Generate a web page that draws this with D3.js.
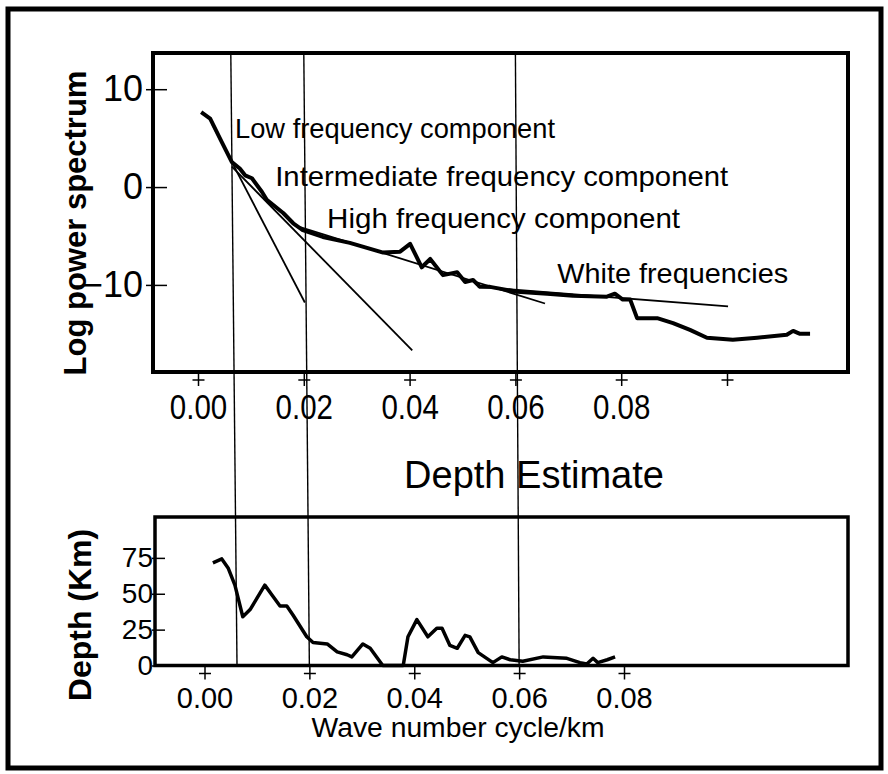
<!doctype html>
<html>
<head>
<meta charset="UTF-8">
<title>Spectral depth estimate</title>
<script src="https://d3js.org/d3.v7.min.js"></script>
<style>
  body { margin: 0; background: #fff; }
  text { font-family: "Liberation Sans", Arial, sans-serif; fill: #000; }
  .frame { fill: none; stroke: #000; }
</style>
</head>
<body>
<script>

// log power spectrum (wavenumber, value)
var specK = [0.0006, 0.0023, 0.0045, 0.0064, 0.0079, 0.0089, 0.0102, 0.0121, 0.0130, 0.0161,
             0.0180, 0.0198, 0.0236, 0.0287, 0.0350, 0.0382, 0.0401, 0.0423, 0.0439, 0.0463,
             0.0490, 0.0505, 0.0520, 0.0533, 0.0552, 0.0603, 0.0660, 0.0709, 0.0773, 0.0788,
             0.0803, 0.0817, 0.0830, 0.0868, 0.0898, 0.0930, 0.0962, 0.1011, 0.1057, 0.1113,
             0.1125, 0.1138, 0.1157];
var specV = [7.65, 7.0, 4.6, 2.55, 1.9, 1.2, 0.9, -0.5, -1.3, -2.65,
             -3.7, -4.4, -5.1, -5.7, -6.7, -6.6, -5.8, -8.2, -7.35, -9.0,
             -8.7, -9.7, -9.5, -10.2, -10.2, -10.7, -10.9, -11.1, -11.2, -10.9,
             -11.5, -11.5, -13.4, -13.4, -13.9, -14.6, -15.4, -15.6, -15.4, -15.1,
             -14.7, -15.0, -15.0];

// straight-line fits [start, end] as [wavenumber, value]
var fitLow = [[0.0026, 6.5], [0.0202, -11.8]];
var fitInter = [[0.0064, 2.1], [0.0405, -16.7]];
var fitHigh = [[0.0193, -4.1], [0.0656, -11.9]];
var fitWhite = [[0.0529, -10.2], [0.1002, -12.2]];

// depth estimate (wavenumber, km)
var depthK = [0.0016, 0.0033, 0.0045, 0.0058, 0.0073, 0.0087, 0.0115, 0.0129, 0.0144, 0.0157,
              0.0169, 0.0195, 0.0207, 0.0234, 0.0253, 0.0272, 0.0281, 0.0302, 0.0316, 0.0340,
              0.0379, 0.0388, 0.0405, 0.0426, 0.0443, 0.0453, 0.0468, 0.0482, 0.0497, 0.0506,
              0.0522, 0.0550, 0.0567, 0.0583, 0.0607, 0.0646, 0.0691, 0.0716, 0.0729, 0.0741,
              0.0750, 0.0768, 0.0783];
var depthV = [71.5, 74.3, 68, 56, 34, 39, 56, 49, 41.5, 41.5,
              35, 20, 16, 15, 9.5, 7.5, 6, 15, 12, 0,
              0, 20, 32, 20, 26, 26, 14, 12, 21, 20,
              9, 2, 6, 4, 3, 6, 5, 2, 1, 5,
              2, 4, 6];

// boundaries between components
var splitK = [0.0062, 0.02, 0.06];

var topTicks = [0, 0.02, 0.04, 0.06, 0.08, 0.10];
var topTickLabels = ["0.00", "0.02", "0.04", "0.06", "0.08", ""];
var botTicks = [0, 0.02, 0.04, 0.06, 0.08];
var botTickLabels = ["0.00", "0.02", "0.04", "0.06", "0.08"];
var powerTicks = [10, 0, -10];
var depthTicks = [75, 50, 25, 0];

var labels = [
    { text: "Low frequency component", k: 0.0070, v: 5.0, w: 320 },
    { text: "Intermediate frequency component", k: 0.0146, v: 0.1, w: 453 },
    { text: "High frequency component", k: 0.0244, v: -4.2, w: 353 },
    { text: "White frequencies", k: 0.0679, v: -9.8, w: 231 }
];

var svg = d3.select("body").append("svg").attr("width", 888).attr("height", 774);

var xTop = d3.scaleLinear().domain([0, 0.1]).range([198, 727]);
var yTop = d3.scaleLinear().domain([-18.9, 13.7]).range([372, 53]);
var xBot = d3.scaleLinear().domain([0, 0.08]).range([204.5, 624]);
var yBot = d3.scaleLinear().domain([0, 103.5]).range([665.5, 517]);

// outer frame
svg.append("rect").attr("class", "frame")
    .attr("x", 8).attr("y", 9).attr("width", 873).attr("height", 759)
    .attr("stroke-width", 5);

// component boundaries, running through both panels
svg.selectAll(".split").data(splitK).enter().append("line")
    .attr("class", "split")
    .attr("x1", function (d) { return xTop(d); })
    .attr("x2", function (d) { return xBot(d); })
    .attr("y1", yTop.range()[1])
    .attr("y2", yBot.range()[0])
    .attr("stroke", "#000").attr("stroke-width", 1.4);

// fits
var fitLine = d3.line()
    .x(function (d) { return xTop(d[0]); })
    .y(function (d) { return yTop(d[1]); });
svg.selectAll(".fit").data([fitLow, fitInter, fitHigh, fitWhite]).enter().append("path")
    .attr("class", "fit")
    .attr("d", fitLine)
    .attr("fill", "none").attr("stroke", "#000").attr("stroke-width", 1.8);

// spectrum
var specLine = d3.line()
    .x(function (d, i) { return xTop(specK[i]); })
    .y(function (d, i) { return yTop(specV[i]); });
svg.append("path").datum(specV)
    .attr("d", specLine)
    .attr("fill", "none").attr("stroke", "#000").attr("stroke-width", 4)
    .attr("stroke-linejoin", "round");

// depth
var depthLine = d3.line()
    .x(function (d, i) { return xBot(depthK[i]); })
    .y(function (d, i) { return yBot(depthV[i]); });
svg.append("path").datum(depthV)
    .attr("d", depthLine)
    .attr("fill", "none").attr("stroke", "#000").attr("stroke-width", 3.5)
    .attr("stroke-linejoin", "round");

// panel boxes
svg.append("rect").attr("class", "frame")
    .attr("x", 153).attr("y", 53).attr("width", 695).attr("height", 319)
    .attr("stroke-width", 4);
svg.append("rect").attr("class", "frame")
    .attr("x", 155).attr("y", 517).attr("width", 693).attr("height", 148.5)
    .attr("stroke-width", 3.5);

// x axes with "+" ticks
function plusAxis(g, labelY, size, squeeze) {
    g.select(".domain").remove();
    g.selectAll(".tick line").attr("stroke", "#000").attr("stroke-width", 1.5);
    g.selectAll(".tick").append("line")
        .attr("x1", -6).attr("x2", 6).attr("y1", 8).attr("y2", 8)
        .attr("stroke", "#000").attr("stroke-width", 1.5);
    g.selectAll(".tick text")
        .attr("y", labelY).attr("dy", "0.35em")
        .style("font-size", size + "px")
        .style("font-family", '"Liberation Sans", Arial, sans-serif')
        .attr("transform", "scale(" + squeeze + ",1)");
}

svg.append("g").attr("transform", "translate(0,372)")
    .call(d3.axisBottom(xTop).tickValues(topTicks).tickSize(14)
        .tickFormat(function (d, i) { return topTickLabels[i]; }))
    .call(plusAxis, 34, 36, 0.82);

svg.append("g").attr("transform", "translate(0,665.5)")
    .call(d3.axisBottom(xBot).tickValues(botTicks).tickSize(14)
        .tickFormat(function (d, i) { return botTickLabels[i]; }))
    .call(plusAxis, 32, 29, 1);

// y axes
function dashAxis(g, inner, outer, labelX, size) {
    g.select(".domain").remove();
    g.selectAll(".tick line").attr("x1", -outer).attr("x2", inner)
        .attr("stroke", "#000").attr("stroke-width", 1.5);
    g.selectAll(".tick text").attr("x", labelX)
        .style("font-size", size + "px")
        .style("font-family", '"Liberation Sans", Arial, sans-serif');
}

svg.append("g").attr("transform", "translate(153,0)")
    .call(d3.axisLeft(yTop).tickValues(powerTicks).tickFormat(d3.format("d")))
    .call(dashAxis, 14, 7, -10, 36);

svg.append("g").attr("transform", "translate(155,0)")
    .call(d3.axisLeft(yBot).tickValues(depthTicks).tickFormat(d3.format("d")))
    .call(dashAxis, 10, 3, -2, 28);

// component labels
svg.selectAll(".lab").data(labels).enter().append("text")
    .attr("class", "lab")
    .attr("x", function (d) { return xTop(d.k); })
    .attr("y", function (d) { return yTop(d.v); })
    .attr("textLength", function (d) { return d.w; })
    .attr("lengthAdjust", "spacingAndGlyphs")
    .style("font-size", "28px")
    .text(function (d) { return d.text; });

// titles
svg.append("text")
    .attr("transform", "translate(86,223) rotate(-90)")
    .attr("text-anchor", "middle")
    .style("font-size", "31px").style("font-weight", "bold")
    .text("Log power spectrum");

svg.append("text")
    .attr("transform", "translate(91,615) rotate(-90)")
    .attr("text-anchor", "middle")
    .style("font-size", "32px").style("font-weight", "bold")
    .text("Depth (Km)");

svg.append("text")
    .attr("x", 534).attr("y", 488)
    .attr("text-anchor", "middle")
    .style("font-size", "38px")
    .text("Depth Estimate");

svg.append("text")
    .attr("x", 458).attr("y", 737)
    .attr("text-anchor", "middle")
    .attr("textLength", 293).attr("lengthAdjust", "spacingAndGlyphs")
    .style("font-size", "27px")
    .text("Wave number cycle/km");

</script>
</body>
</html>
